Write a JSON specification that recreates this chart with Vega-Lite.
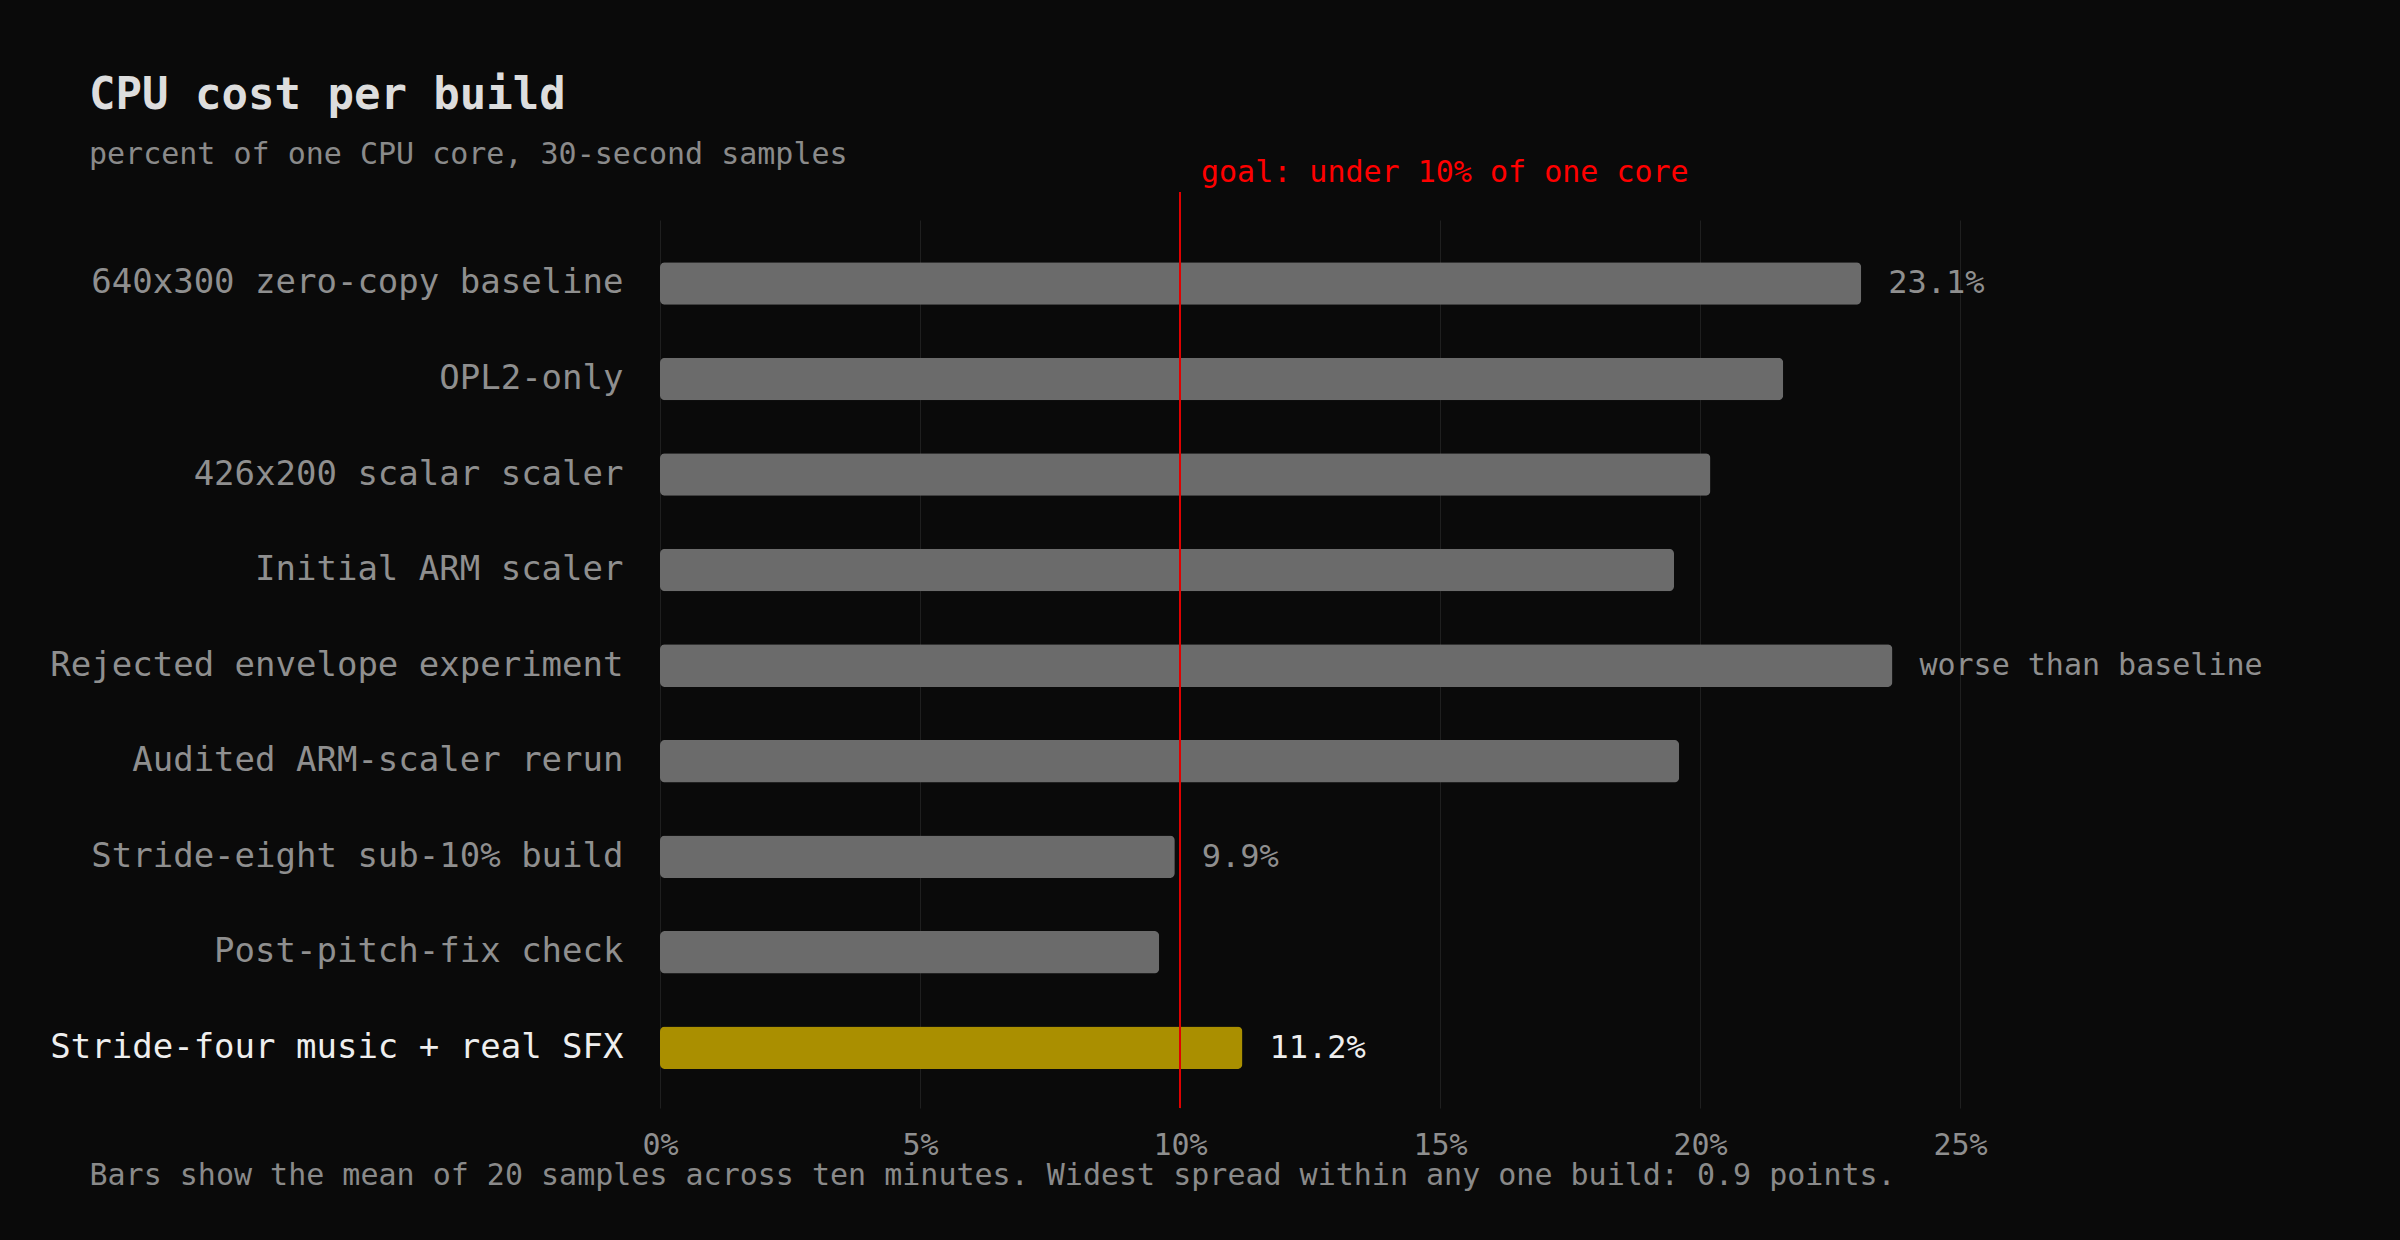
{
  "$schema": "https://vega.github.io/schema/vega-lite/v6.json",
  "width": 1300,
  "height": 888,
  "autosize": {"type": "none"},
  "padding": {"left": 660, "top": 220, "right": 440, "bottom": 132},
  "background": "#0a0a0a",
  "config": {"view": {"stroke": null}, "font": "DejaVu Sans Mono"},
  "title": {
    "text": "CPU cost per build",
    "subtitle": "percent of one CPU core, 30-second samples",
    "anchor": "start",
    "frame": "group",
    "dx": -571,
    "offset": -12,
    "font": "DejaVu Sans Mono",
    "fontSize": 44,
    "fontWeight": "bold",
    "color": "#dddddd",
    "subtitleFont": "DejaVu Sans Mono",
    "subtitleFontSize": 30,
    "subtitleColor": "#8a8a8a",
    "subtitlePadding": 22
  },
  "data": {
    "values": [
      {"build": "640x300 zero-copy baseline", "cpu": 23.1, "label": "23.1%"},
      {"build": "OPL2-only", "cpu": 21.6, "label": ""},
      {"build": "426x200 scalar scaler", "cpu": 20.2, "label": ""},
      {"build": "Initial ARM scaler", "cpu": 19.5, "label": ""},
      {"build": "Rejected envelope experiment", "cpu": 23.7, "label": "worse than baseline"},
      {"build": "Audited ARM-scaler rerun", "cpu": 19.6, "label": ""},
      {"build": "Stride-eight sub-10% build", "cpu": 9.9, "label": "9.9%"},
      {"build": "Post-pitch-fix check", "cpu": 9.6, "label": ""},
      {"build": "Stride-four music + real SFX", "cpu": 11.2, "label": "11.2%"}
    ]
  },
  "layer": [
    {
      "mark": {"type": "bar", "cornerRadius": 5},
      "encoding": {
        "y": {
          "field": "build",
          "type": "nominal",
          "sort": null,
          "scale": {"paddingInner": 0.555, "paddingOuter": 0.424, "align": 0.52},
          "axis": {
            "title": null,
            "ticks": false,
            "domain": false,
            "grid": false,
            "labelFontSize": 34,
            "labelPadding": 37,
            "labelLimit": 0,
            "labelColor": {
              "condition": {"test": "datum.value === 'Stride-four music + real SFX'", "value": "#eeeeee"},
              "value": "#8f8f8f"
            }
          }
        },
        "x": {
          "field": "cpu",
          "type": "quantitative",
          "scale": {"domain": [0, 25], "nice": false},
          "axis": {
            "values": [0, 5, 10, 15, 20, 25],
            "labelExpr": "datum.value + '%'",
            "labelFlush": false,
            "grid": true,
            "gridColor": "#1f1f1f",
            "gridWidth": 1,
            "domain": false,
            "ticks": false,
            "labelFontSize": 30,
            "labelColor": "#8f8f8f",
            "labelPadding": 22,
            "title": "Bars show the mean of 20 samples across ten minutes. Widest spread within any one build: 0.9 points.",
            "titleX": -571,
            "titleY": 67,
            "titleAlign": "left",
            "titleAnchor": "start",
            "titleBaseline": "middle",
            "titleFontSize": 30,
            "titleFontWeight": "normal",
            "titleColor": "#8a8a8a"
          }
        },
        "color": {
          "condition": {"test": "datum.build === 'Stride-four music + real SFX'", "value": "#aa8f00"},
          "value": "#6b6b6b"
        }
      }
    },
    {
      "transform": [{"filter": "datum.label !== ''"}],
      "mark": {"type": "text", "align": "left", "baseline": "middle", "dx": 27},
      "encoding": {
        "y": {"field": "build", "type": "nominal", "sort": null},
        "x": {"field": "cpu", "type": "quantitative", "scale": {"domain": [0, 25], "nice": false}},
        "text": {"field": "label"},
        "size": {
          "condition": {"test": "datum.label === 'worse than baseline'", "value": 30},
          "value": 32
        },
        "color": {
          "condition": {"test": "datum.build === 'Stride-four music + real SFX'", "value": "#eeeeee"},
          "value": "#8f8f8f"
        }
      }
    },
    {
      "data": {"values": [{"goal": 10}]},
      "mark": {"type": "rule", "color": "#e00000", "strokeWidth": 2},
      "encoding": {
        "x": {"field": "goal", "type": "quantitative", "scale": {"domain": [0, 25], "nice": false}},
        "y": {"value": -28},
        "y2": {"value": 888}
      }
    },
    {
      "data": {"values": [{"goal": 10, "note": "goal: under 10% of one core"}]},
      "mark": {"type": "text", "align": "left", "baseline": "middle", "dx": 21, "fontSize": 30, "color": "#ff0000"},
      "encoding": {
        "x": {"field": "goal", "type": "quantitative", "scale": {"domain": [0, 25], "nice": false}},
        "y": {"value": -47},
        "text": {"field": "note"}
      }
    }
  ]
}
